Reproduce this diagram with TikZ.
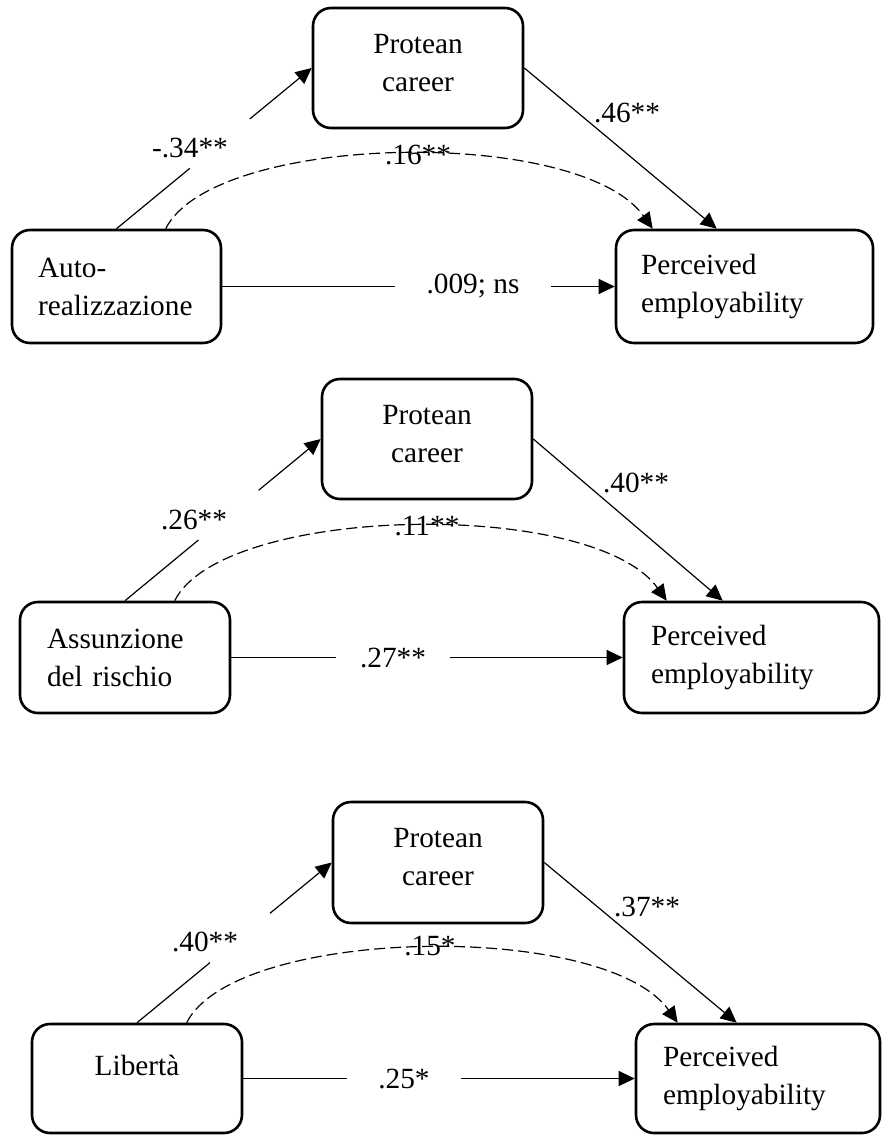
\documentclass[tikz,border=0pt]{standalone}
\usepackage{fontspec}
\setmainfont{Liberation Serif}
\usetikzlibrary{arrows.meta,calc}
\newcommand\protxt{\raisebox{5pt}[\height][\depth]{\parbox{200pt}{\centering Protean\\career}}}
\begin{document}
\begin{tikzpicture}[x=1pt,y=-1pt,
  every node/.style={font=\fontsize{29.3pt}{38pt}\selectfont},
  box/.style={draw, line width=2.6pt, rounded corners=18pt, inner sep=0pt},
  lbox/.style={box, align=left},
  lbl/.style={inner sep=0pt},
  conn/.style={line width=1.2pt},
  arr/.style={conn, -{Triangle[length=16pt,width=15pt]}},
  darr/.style={arr, dash pattern=on 11pt off 5pt}
]
\useasboundingbox (0,0) rectangle (882,1135);

% ---------- Panel 1 ----------
\node[box, minimum width=210pt, minimum height=120pt] (P1) at (418,68) {\protxt};
\node[lbox, inner xsep=26pt, text width=157pt, minimum height=113pt] (A1) at (116.5,286.5) {Auto-\\realizzazione};
\node[lbox, inner xsep=25pt, text width=207pt, minimum height=113pt] (E1) at (744.5,286.5) {Perceived\\employability};
\node[lbl, minimum width=156pt] (d1) at (473,286.5) {.009; ns};
\draw[conn] (A1) -- (d1);
\draw[arr] (d1) -- (E1);
\path (A1.north) -- (P1.west) coordinate[pos=0.375] (g1a) coordinate[pos=0.683] (g1b);
\draw[conn] (A1.north) -- (g1a);
\draw[arr] (g1b) -- (P1.west);
\node[lbl] (a1) at (190,148) {-.34**};
\draw[arr] (P1.east) -- ($(E1.north west)+(102,0)$);
\node[lbl] (b1) at (627,113) {.46**};
\coordinate (s1) at ($(A1.north west)+(155,0)$);
\coordinate (e1) at ($(E1.north west)+(38,0)$);
\draw[darr] (s1) .. controls ($(s1)+(48,-96)$) and ($(e1)+(-74,-103)$) .. (e1);
\node[lbl] (c1) at (418,155) {.16**};

% ---------- Panel 2 ----------
\node[box, minimum width=210pt, minimum height=120pt] (P2) at (427,439) {\protxt};
\node[lbox, inner xsep=27pt, text width=156pt, minimum height=111pt] (A2) at (125,657.5) {Assunzione\\del rischio};
\node[lbox, inner xsep=27pt, text width=201pt, minimum height=111pt] (E2) at (751.5,657.5) {Perceived\\employability};
\node[lbl, minimum width=114pt] (d2) at (393,657.5) {.27**};
\draw[conn] (A2) -- (d2);
\draw[arr] (d2) -- (E2);
\path (A2.north) -- (P2.west) coordinate[pos=0.375] (g2a) coordinate[pos=0.683] (g2b);
\draw[conn] (A2.north) -- (g2a);
\draw[arr] (g2b) -- (P2.west);
\node[lbl] (a2) at (194,520) {.26**};
\draw[arr] (P2.east) -- ($(E2.north west)+(100,0)$);
\node[lbl] (b2) at (636,483) {.40**};
\coordinate (s2) at ($(A2.north west)+(156,0)$);
\coordinate (e2) at ($(E2.north west)+(44,0)$);
\draw[darr] (s2) .. controls ($(s2)+(48,-96)$) and ($(e2)+(-74,-103)$) .. (e2);
\node[lbl] (c2) at (427,526) {.11**};

% ---------- Panel 3 ----------
\node[box, minimum width=210pt, minimum height=121pt] (P3) at (438,862.5) {\protxt};
\node[box, minimum width=210pt, minimum height=109pt] (A3) at (137,1078.5) {\raisebox{13.5pt}[\height][\depth]{Libertà}};
\node[lbox, inner xsep=27pt, text width=190pt, minimum height=109pt] (E3) at (758,1078.5) {Perceived\\employability};
\node[lbl, minimum width=114pt] (d3) at (404,1078.5) {.25*};
\draw[conn] (A3) -- (d3);
\draw[arr] (d3) -- (E3);
\path (A3.north) -- (P3.west) coordinate[pos=0.375] (g3a) coordinate[pos=0.683] (g3b);
\draw[conn] (A3.north) -- (g3a);
\draw[arr] (g3b) -- (P3.west);
\node[lbl] (a3) at (205,942) {.40**};
\draw[arr] (P3.east) -- ($(E3.north west)+(102,0)$);
\node[lbl] (b3) at (647,907) {.37**};
\coordinate (s3) at ($(A3.north west)+(156,0)$);
\coordinate (e3) at ($(E3.north west)+(43,0)$);
\draw[darr] (s3) .. controls ($(s3)+(48,-96)$) and ($(e3)+(-74,-103)$) .. (e3);
\node[lbl] (c3) at (430,946) {.15*};
\end{tikzpicture}
\end{document}
